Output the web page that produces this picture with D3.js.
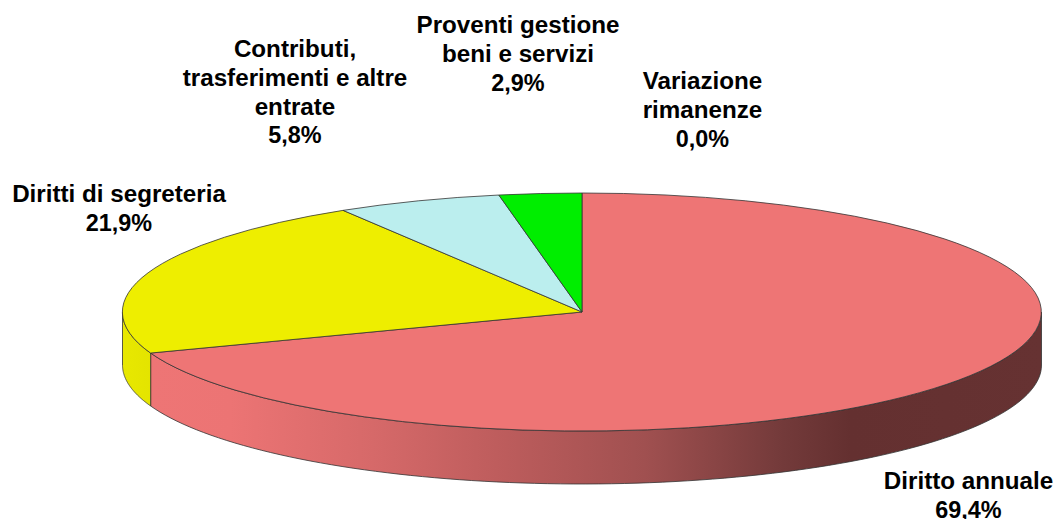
<!DOCTYPE html>
<html><head><meta charset="utf-8">
<script src="https://cdn.jsdelivr.net/npm/d3@7"></script>
<style>html,body{margin:0;padding:0;background:#fff;overflow:hidden}svg{display:block}
text{font-family:"Liberation Sans",Arial,sans-serif;font-weight:700;font-size:24.2px;fill:#000;text-anchor:middle}
tspan.pct{font-size:23.4px}</style>
</head><body><svg id="c" width="1056" height="519"></svg>
<script>
const categories=["Diritto annuale","Diritti di segreteria","Contributi, trasferimenti e altre entrate","Proventi gestione beni e servizi","Variazione rimanenze"];
const values=[69.4,21.9,5.8,2.9,0.0];
const colors=["#EE7575","#EEEE00","#BBEEEE","#00EE00","#EE00EE"];
const labelLines=[["Diritto annuale"],["Diritti di segreteria"],["Contributi,","trasferimenti e altre","entrate"],["Proventi gestione","beni e servizi"],["Variazione","rimanenze"]];

const W=1056,H=519,cx=582,cy=312,rx=459.5,ry=119,depth=53,lh=28.8;
const labelAnchor=[[968.5,489],[119,202],[295,57],[518,33],[702.5,89]];
const fmt=v=>v.toFixed(1).replace(".",",")+"%";
const svg=d3.select("#c");
const arcs=d3.pie().value(d=>d).sort(null).startAngle(0).endAngle(2*Math.PI)(values);

// gradients for the side wall
const defs=svg.append("defs");
const g=defs.append("linearGradient").attr("id","wallPink").attr("gradientUnits","userSpaceOnUse")
  .attr("x1",150).attr("x2",1042).attr("y1",0).attr("y2",0);
[[0,"#EE7575"],[0.09,"#EC7474"],[0.25,"#D66969"],[0.40,"#BC5C5C"],[0.555,"#A05050"],[0.71,"#733A3A"],[0.785,"#643030"],[1,"#663232"]]
  .forEach(s=>g.append("stop").attr("offset",s[0]).attr("stop-color",s[1]));
const gy=defs.append("linearGradient").attr("id","wallYellow").attr("gradientUnits","userSpaceOnUse")
  .attr("x1",122).attr("x2",150).attr("y1",0).attr("y2",0);
gy.append("stop").attr("offset",0).attr("stop-color","#E8E800");
gy.append("stop").attr("offset",1).attr("stop-color","#E4E400");

const px=a=>cx+rx*Math.sin(a), py=a=>cy-ry*Math.cos(a);
// visible outer wall of an angular span on the front half of the ellipse
function wall(a0,a1){
  const s=Math.max(a0,Math.PI/2), e=Math.min(a1,3*Math.PI/2);
  if(e<=s) return null;
  const p=d3.path();
  p.moveTo(px(s),py(s));
  p.lineTo(px(s),py(s)+depth);
  const pts=d3.range(0,101).map(i=>s+(e-s)*i/100);
  pts.forEach(a=>p.lineTo(px(a),py(a)+depth));
  p.lineTo(px(e),py(e));
  pts.slice().reverse().forEach(a=>p.lineTo(px(a),py(a)));
  p.closePath();
  return p.toString();
}
const wallFills=["url(#wallPink)","url(#wallYellow)"];
svg.append("g").selectAll("path").data(arcs.filter(d=>wall(d.startAngle,d.endAngle)))
  .join("path").attr("d",d=>wall(d.startAngle,d.endAngle))
  .attr("fill",d=>wallFills[d.index]).attr("stroke","#333").attr("stroke-width",0.8).attr("stroke-linejoin","round");

// top face: a unit-circle d3.arc squashed to the ellipse
const arc=d3.arc().innerRadius(0).outerRadius(1);
svg.append("g").attr("transform",`translate(${cx},${cy}) scale(${rx},${ry})`)
  .selectAll("path").data(arcs.filter(d=>d.value>0)).join("path")
  .attr("d",arc).attr("fill",d=>colors[d.index])
  .attr("stroke","#333").attr("stroke-width",0.8).attr("vector-effect","non-scaling-stroke").attr("stroke-linejoin","round");

// labels
const t=svg.append("g").selectAll("text").data(arcs).join("text")
  .attr("transform",d=>`translate(${labelAnchor[d.index][0]},${labelAnchor[d.index][1]})`);
t.selectAll("tspan").data(d=>labelLines[d.index].map(s=>[s,""]).concat([[fmt(d.value),"pct"]]))
  .join("tspan").attr("class",d=>d[1]).attr("x",0).attr("y",(d,i)=>i*lh).text(d=>d[0]);
</script></body></html>
